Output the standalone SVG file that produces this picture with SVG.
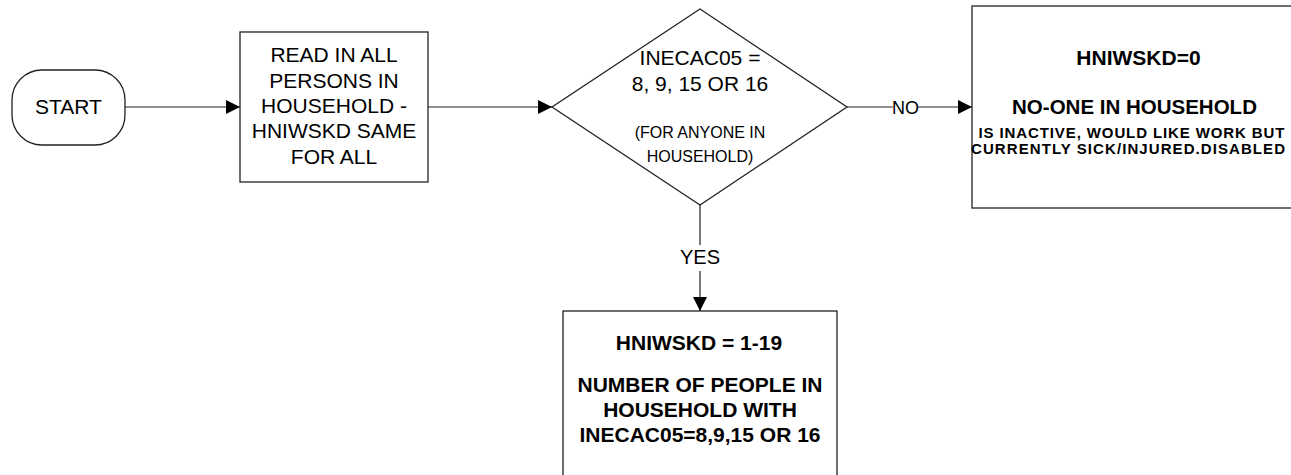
<svg xmlns="http://www.w3.org/2000/svg" width="1291" height="475" viewBox="0 0 1291 475">
<style>
.shape{fill:#fff;stroke:#222;stroke-width:1.3}
.conn{fill:none;stroke:#222;stroke-width:1.2}
text{font-family:"Liberation Sans",Arial,sans-serif;fill:#000;text-anchor:middle}
.n{font-size:21px}
.s{font-size:16px}
.lbl{font-size:20px}
.b{font-weight:bold;font-size:21px}
.bs{font-weight:bold;font-size:15px}
</style>
<defs>
<marker id="arr" markerWidth="14" markerHeight="14" refX="14" refY="7" orient="auto" markerUnits="userSpaceOnUse">
<path d="M0,0 L14,7 L0,14 Z" fill="#000"/>
</marker>
</defs>
<rect width="1291" height="475" fill="#fff"/>
<g id="connectors">
<line class="conn" x1="125" y1="107" x2="240" y2="107" marker-end="url(#arr)"/>
<line class="conn" x1="428" y1="107" x2="552" y2="107" marker-end="url(#arr)"/>
<line class="conn" x1="847" y1="107" x2="893" y2="107"/>
<line class="conn" x1="918" y1="107" x2="972" y2="107" marker-end="url(#arr)"/>
<text class="lbl" x="905.5" y="114" style="font-size:18px">NO</text>
<line class="conn" x1="700" y1="205" x2="700" y2="245"/>
<line class="conn" x1="700" y1="271" x2="700" y2="311" marker-end="url(#arr)"/>
<text class="lbl" x="700" y="264">YES</text>
</g>
<g id="start">
<rect class="shape" x="12" y="70" width="113" height="75" rx="30" ry="30"/>
<text class="n" x="68.5" y="114">START</text>
</g>
<g id="read">
<rect class="shape" x="240" y="32" width="188" height="150"/>
<text class="n" x="334" y="62">READ IN ALL</text>
<text class="n" x="334" y="88">PERSONS IN</text>
<text class="n" x="334" y="113">HOUSEHOLD -</text>
<text class="n" x="334" y="138">HNIWSKD SAME</text>
<text class="n" x="334" y="164">FOR ALL</text>
</g>
<g id="decision">
<polygon class="shape" points="700,9 847,107 700,205 552,107"/>
<text class="n" x="700" y="65">INECAC05 =</text>
<text class="n" x="700" y="91">8, 9, 15 OR 16</text>
<text class="s" x="700" y="138">(FOR ANYONE IN</text>
<text class="s" x="700" y="162">HOUSEHOLD)</text>
</g>
<g id="no-result">
<rect class="shape" x="972" y="6" width="324" height="202"/>
<text class="b" x="1138.5" y="65">HNIWSKD=0</text>
<text class="b" x="1134.5" y="114" style="font-size:20.5px">NO-ONE IN HOUSEHOLD</text>
<text class="bs" x="1131.5" y="137.5" textLength="306" lengthAdjust="spacing">IS INACTIVE, WOULD LIKE WORK BUT</text>
<text class="bs" x="1128" y="154" textLength="314" lengthAdjust="spacing">CURRENTLY SICK/INJURED.DISABLED</text>
</g>
<g id="yes-result">
<rect class="shape" x="563" y="311" width="274" height="180"/>
<text class="b" x="699" y="350">HNIWSKD = 1-19</text>
<text class="b" x="700" y="392">NUMBER OF PEOPLE IN</text>
<text class="b" x="700" y="417">HOUSEHOLD WITH</text>
<text class="b" x="700" y="442">INECAC05=8,9,15 OR 16</text>
</g>
</svg>
